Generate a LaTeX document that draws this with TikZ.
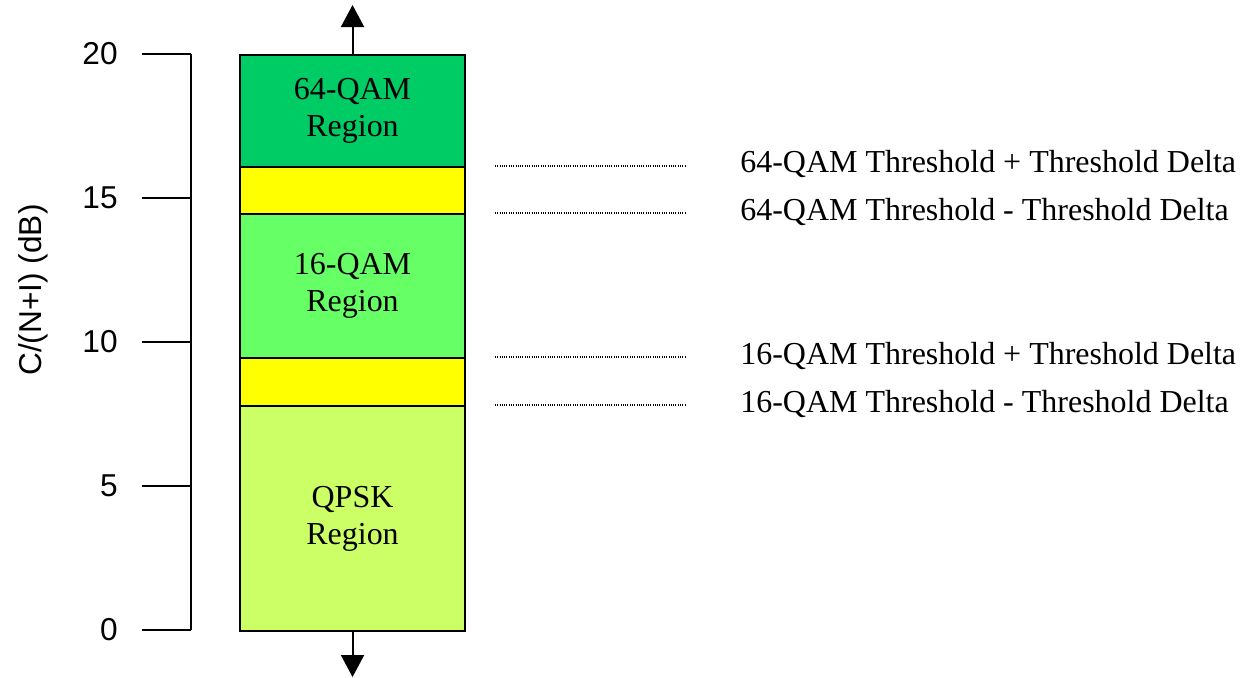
\documentclass[tikz,border=0pt]{standalone}
\usepackage{fontspec}
\setmainfont{Liberation Serif}
\setsansfont{Liberation Sans}
\usetikzlibrary{arrows.meta}
\definecolor{qamhi}{RGB}{0,204,102}
\definecolor{qammid}{RGB}{102,255,102}
\definecolor{qpsk}{RGB}{204,255,102}
\definecolor{hyst}{RGB}{255,255,0}
\tikzset{
  band/.style={draw=black, line width=1.2pt, minimum width=4.5cm, inner sep=0pt,
    font=\fontsize{18.2}{21}\selectfont, align=center, anchor=north west},
  axisline/.style={line width=1.1pt},
  ticklabel/.style={font=\sffamily\fontsize{18}{20}\selectfont, anchor=east, inner sep=0pt},
  thresh/.style={line width=0.8pt, dash pattern=on 0.55pt off 0.75pt},
  threshlabel/.style={font=\fontsize{18.2}{20}\selectfont, anchor=base west, inner sep=0pt},
  flow/.style={line width=1.1pt, -{Triangle[width=0.46cm,length=0.44cm]}}
}
\begin{document}
\begin{tikzpicture}[x=0.02cm, y=-0.02cm]
\useasboundingbox (0,0) rectangle (1241,677);

% stacked modulation regions (top = 20 dB, bottom = 0 dB)
\node[band, fill=qamhi,  minimum height=2.24cm] (r64)  at (239,54)  {64-QAM\\Region};
\node[band, fill=hyst,   minimum height=0.94cm] (h64)  at (239,166) {};
\node[band, fill=qammid, minimum height=2.88cm] (r16)  at (239,213) {16-QAM\\Region};
\node[band, fill=hyst,   minimum height=0.96cm] (h16)  at (239,357) {};
\node[band, fill=qpsk,   minimum height=4.50cm] (rq)   at (239,405) {QPSK\\Region};

% arrows leaving the stack
\coordinate (up) at (351,5);
\coordinate (down) at (351,677);
\draw[flow] (r64.north) -- (r64.north |- up);
\draw[flow] (rq.south) -- (rq.south |- down);

% vertical scale
\draw[axisline] (191,54) -- (191,630);
\foreach \v/\yy in {20/54, 15/198, 10/342, 5/486, 0/630} {
  \draw[axisline] (142,\yy) -- (191,\yy);
  \node[ticklabel] (t\v) at (118,\yy) {\v};
}
\node[font=\sffamily\fontsize{18}{20}\selectfont, rotate=90] (ylab) at (33,290) {C/(N+I) (dB)};

% threshold markers
\coordinate (a1) at (495,166); \coordinate (b1) at (686,166);
\coordinate (a2) at (495,213); \coordinate (b2) at (686,213);
\coordinate (a3) at (495,357); \coordinate (b3) at (686,357);
\coordinate (a4) at (495,405); \coordinate (b4) at (686,405);
\draw[thresh] (a1) -- (b1);
\draw[thresh] (a2) -- (b2);
\draw[thresh] (a3) -- (b3);
\draw[thresh] (a4) -- (b4);
\node[threshlabel] (l1) at (740,172) {64-QAM Threshold + Threshold Delta};
\node[threshlabel] (l2) at (740,220) {64-QAM Threshold - Threshold Delta};
\node[threshlabel] (l3) at (740,364) {16-QAM Threshold + Threshold Delta};
\node[threshlabel] (l4) at (740,412) {16-QAM Threshold - Threshold Delta};
\end{tikzpicture}
\end{document}
